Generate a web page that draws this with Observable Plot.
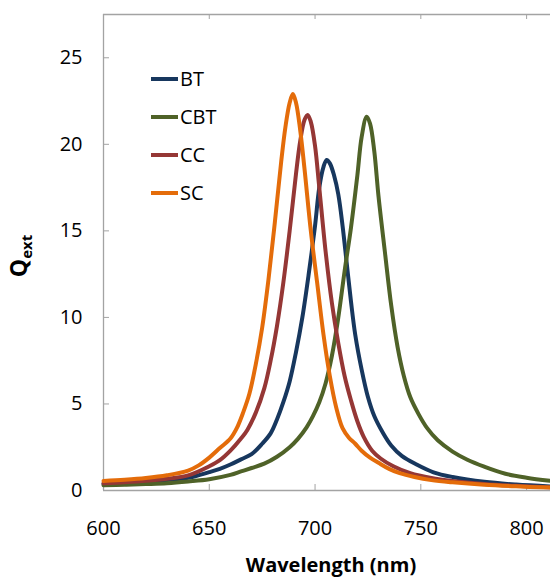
<!DOCTYPE html>
<html><head><meta charset="utf-8">
<script src="https://cdn.jsdelivr.net/npm/d3@7"></script>
<script src="https://cdn.jsdelivr.net/npm/@observablehq/plot@0.6"></script>
<style>
html,body{margin:0;padding:0;background:#fff;}
#chart{width:550px;height:578px;}
</style></head><body><div id="chart"></div>
<script>
const seriesNames = ["BT", "CBT", "CC", "SC"];
const seriesColors = ["#17375E", "#4F6228", "#953735", "#E46C0A"];
const xTicks = [600, 650, 700, 750, 800];
const yTicks = [0, 5, 10, 15, 20, 25];
const xDomain = [600, 811.3];
const yDomain = [0, 27.5];
const xTitle = "Wavelength (nm)";
const yTitleMain = "Q";
const yTitleSub = "ext";

const btWl = [600,610,620,630,640,650,655,660,665,670,675,679,682,685,688,691,694,697,700,702,704,705.5,707,709,711,713,715,717,719,722,725,728,732,736,741,748,756,765,780,795,811];
const btQ  = [0.38,0.43,0.5,0.6,0.73,1.06,1.25,1.5,1.8,2.1,2.7,3.3,4.1,5.1,6.3,8.0,10.0,12.5,15.3,17.5,18.7,19.1,18.9,18.2,17.1,15.3,13.1,10.9,9.0,7.0,5.4,4.3,3.35,2.6,2.0,1.5,1.05,0.78,0.5,0.34,0.23];

const cbtWl = [600,610,620,630,640,650,660,665,670,676,682,688,692,696,699,702,705,708,711,714,717,720,722,724.4,726,728,730,733,736,739,742,745,749,753,758,765,772,780,790,800,811];
const cbtQ  = [0.3,0.33,0.37,0.42,0.52,0.65,0.9,1.1,1.3,1.55,1.95,2.5,3.0,3.65,4.3,5.1,6.2,7.8,10.0,12.7,15.2,18.2,20.4,21.6,21.2,19.6,17.0,13.8,10.7,8.3,6.6,5.4,4.4,3.6,2.9,2.25,1.78,1.38,0.97,0.74,0.56];

const ccWl = [600,610,620,630,640,650,655,660,665,668,672,676,679,682,685,688,691,693,695,696.5,698,700,702,705,708,711,714,717,720,723,727,731,737,745,755,765,780,795,811];
const ccQ  = [0.42,0.48,0.56,0.68,0.87,1.4,1.75,2.3,3.0,3.5,4.5,5.9,7.5,9.5,12.0,15.0,18.3,20.2,21.4,21.7,21.3,19.9,17.5,13.8,10.8,8.5,6.6,5.2,4.0,3.1,2.3,1.85,1.4,1.0,0.72,0.55,0.38,0.27,0.19];

const scWl = [600,610,620,630,640,645,650,655,660,663,666,669,672,675,678,681,684,686,688,689.5,691,693,695,698,701,704,707,710,713,716,719,722,726,730,735,740,747,755,765,780,795,811];
const scQ  = [0.55,0.62,0.72,0.88,1.15,1.45,1.9,2.45,3.0,3.6,4.5,5.6,7.3,9.4,12.2,15.5,19.0,21.0,22.4,22.9,22.4,20.8,18.6,15.0,12.0,9.0,6.6,4.8,3.6,3.05,2.7,2.3,1.9,1.6,1.25,1.0,0.78,0.6,0.47,0.33,0.24,0.17];

const wls = [btWl, cbtWl, ccWl, scWl];
const qs = [btQ, cbtQ, ccQ, scQ];
const rows = [];
seriesNames.forEach((s, i) => wls[i].forEach((w, j) => rows.push({series: s, wl: w, q: qs[i][j]})));

const axisGrey = "#a3a3a3";
const font = "'Open Sans', sans-serif";

const chart = Plot.plot({
  width: 550, height: 578,
  marginLeft: 103, marginRight: 0, marginTop: 14, marginBottom: 88,
  style: {fontFamily: font, fontSize: "20px", color: "#000", background: "#fff", overflow: "visible"},
  x: {domain: xDomain},
  y: {domain: yDomain},
  color: {domain: seriesNames, range: seriesColors},
  marks: [
    Plot.ruleX([xDomain[0]], {stroke: axisGrey, strokeWidth: 1.3}),
    Plot.ruleY([yDomain[0]], {stroke: axisGrey, strokeWidth: 1.3}),
    Plot.ruleY([yDomain[1]], {stroke: axisGrey, strokeWidth: 1.3}),
    Plot.axisX(xTicks, {anchor: "bottom", tickSize: -6, tickPadding: 36, stroke: axisGrey, fill: "#000", label: null}),
    Plot.axisX(xTicks.slice(1), {anchor: "top", tickSize: -4, tickFormat: () => "", stroke: axisGrey, label: null}),
    Plot.axisY(yTicks, {anchor: "left", tickSize: -6, tickPadding: 27, stroke: axisGrey, fill: "#000", label: null}),
    Plot.line(rows, {x: "wl", y: "q", z: "series", stroke: "series", strokeWidth: 4, curve: "catmull-rom"})
  ]
});
document.getElementById("chart").appendChild(chart);

const svg = d3.select(chart);
// x-axis title
svg.append("text").attr("x", 331).attr("y", 572).attr("text-anchor", "middle")
  .attr("font-family", font).attr("font-size", 20).attr("font-weight", "bold").attr("fill", "#000")
  .text(xTitle);
// y-axis title with subscript
const yt = svg.append("text").attr("transform", "translate(27,256) rotate(-90)").attr("text-anchor", "middle")
  .attr("font-family", font).attr("font-weight", "bold").attr("fill", "#000");
yt.append("tspan").attr("font-size", 23).text(yTitleMain);
yt.append("tspan").attr("font-size", 15).attr("dy", 5).text(yTitleSub);
// legend
const lg = svg.append("g");
seriesNames.forEach((s, i) => {
  const y = 79 + i * 38;
  lg.append("line").attr("x1", 151).attr("x2", 178).attr("y1", y).attr("y2", y)
    .attr("stroke", seriesColors[i]).attr("stroke-width", 4);
  lg.append("text").attr("x", 180).attr("y", y).attr("dy", "0.36em").attr("text-anchor", "start")
    .attr("font-family", font).attr("font-size", 20).attr("fill", "#000").text(s);
});
</script>
</body></html>
